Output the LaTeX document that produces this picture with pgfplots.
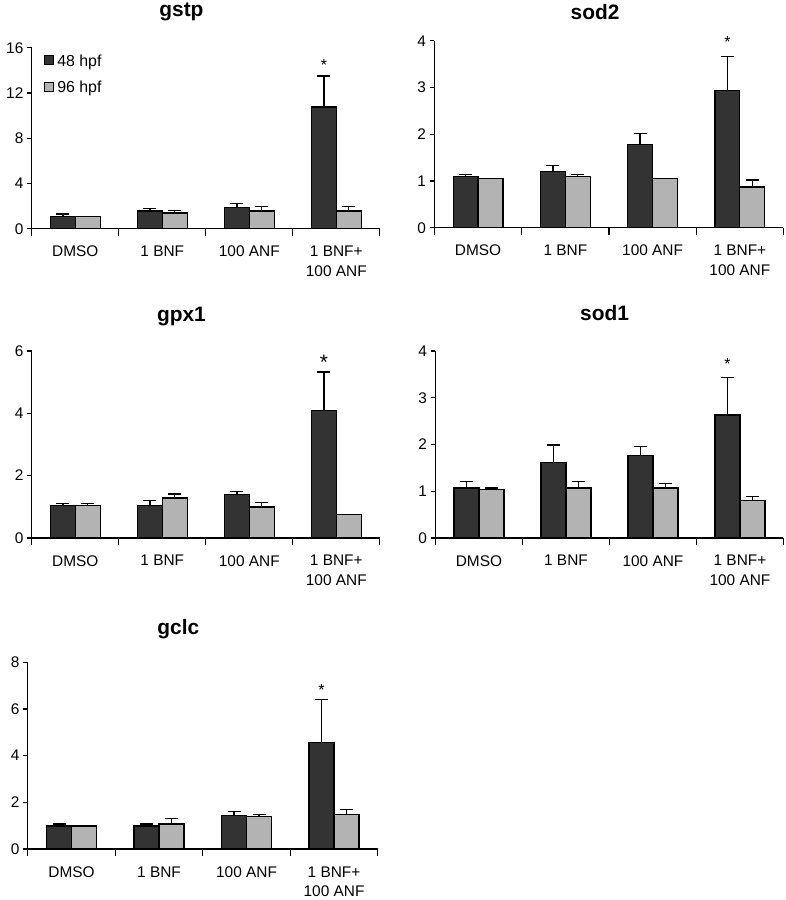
\documentclass[border=0pt]{standalone}
\usepackage{pgfplots}
\pgfplotsset{compat=1.18}
\usepackage{fontspec}
\setmainfont{Liberation Sans}
\definecolor{darkbar}{HTML}{333333}
\definecolor{lightbar}{HTML}{B3B3B3}
\pgfplotsset{
 panel/.style={
  scale only axis, width=350pt, height=188pt, clip=false,
  axis x line=bottom, axis y line=left,
  axis line style={-, line width=1.3pt, black},
  xmin=-0.5, xmax=3.5, ymin=0,
  xtick={0,1,2,3}, xticklabels={DMSO,1 BNF,100 ANF,{1 BNF+\\100 ANF}},
  xticklabel style={align=center, font=\fontsize{15.5}{19.5}\selectfont, yshift=-9pt},
  yticklabel style={font=\fontsize{15.5}{17}\selectfont},
  major x tick style={draw=none},
  minor xtick={-0.5,0.5,1.5,2.5,3.5},
  tick style={black, line width=1.3pt},
  minor tick length=7pt, major tick length=5pt,
  tick align=outside,
  /pgf/number format/assume math mode=true,
  ybar, bar width=0.286,
  error bars/y dir=plus, error bars/y explicit,
  error bars/error mark options={rotate=90, mark size=6.5pt, line width=1.3pt, black},
  error bars/error bar style={line width=1.3pt, black},
  title style={anchor=base, font=\bfseries\fontsize{21}{23}\selectfont},
 },
 dk/.style={fill=darkbar, draw=black, line width=1.3pt, bar shift=-0.143},
 lt/.style={fill=lightbar, draw=black, line width=1.3pt, bar shift=0.143},
}
\begin{document}
\begin{tikzpicture}[x=1pt,y=1pt]
\path (0,0) rectangle (790,900);
% gstp
\begin{axis}[panel, at={(32pt,674pt)}, anchor=south west, height=182pt,
  ymax=16, ytick={0,4,8,12,16},
  title={gstp}, title style={at={(0.43,1)}, yshift=25pt},
  legend style={at={(0.034,0.962)}, anchor=north west, draw=none, fill=none,
    inner sep=0pt, outer sep=0pt,
    font=\fontsize{16}{18}\selectfont, row sep=15pt,
    nodes={inner sep=0pt, text depth=0pt}},
  legend cell align=left,
  legend image code/.code={\draw[#1, line width=1.1pt] (0pt,-4.5pt) rectangle (9pt,4.5pt); \path (12.5pt,0pt);}]
\addplot[dk] coordinates {(0,1.06) +- (0,0.24) (1,1.56) +- (0,0.2) (2,1.9) +- (0,0.33) (3,10.75) +- (0,2.75)};
\addplot[lt] coordinates {(0,1.05) +- (0,0) (1,1.38) +- (0,0.2) (2,1.56) +- (0,0.38) (3,1.56) +- (0,0.38)};
\legend{48 hpf, 96 hpf}
\node[font=\fontsize{16}{17}\selectfont] at (axis cs:2.857,14.5) {*};
\end{axis}
% sod2
\begin{axis}[panel, at={(437pt,675pt)}, anchor=south west, width=351pt,
  ymax=4, ytick={0,1,2,3,4},
  title={sod2}, title style={at={(0.46,1)}, yshift=15pt}]
\addplot[dk] coordinates {(0,1.09) +- (0,0.05) (1,1.21) +- (0,0.12) (2,1.78) +- (0,0.24) (3,2.93) +- (0,0.74)};
\addplot[lt] coordinates {(0,1.06) +- (0,0) (1,1.09) +- (0,0.05) (2,1.06) +- (0,0) (3,0.87) +- (0,0.15)};
\node[font=\fontsize{16}{17}\selectfont] at (axis cs:2.857,3.98) {*};
\end{axis}
% gpx1
\begin{axis}[panel, at={(32pt,363pt)}, anchor=south west,
  ymax=6, ytick={0,2,4,6},
  title={gpx1}, title style={at={(0.43,1)}, yshift=24pt}]
\addplot[dk] coordinates {(0,1.05) +- (0,0.06) (1,1.05) +- (0,0.15) (2,1.39) +- (0,0.1) (3,4.08) +- (0,1.25)};
\addplot[lt] coordinates {(0,1.05) +- (0,0.06) (1,1.28) +- (0,0.13) (2,0.99) +- (0,0.14) (3,0.75) +- (0,0)};
\node[font=\fontsize{21}{22}\selectfont] at (axis cs:2.857,5.65) {*};
\end{axis}
% sod1
\begin{axis}[panel, at={(438pt,363pt)}, anchor=south west,
  ymax=4, ytick={0,1,2,3,4},
  title={sod1}, title style={at={(0.486,1)}, yshift=25pt}]
\addplot[dk] coordinates {(0,1.07) +- (0,0.13) (1,1.61) +- (0,0.38) (2,1.76) +- (0,0.2) (3,2.63) +- (0,0.81)};
\addplot[lt] coordinates {(0,1.04) +- (0,0.03) (1,1.07) +- (0,0.13) (2,1.07) +- (0,0.09) (3,0.8) +- (0,0.09)};
\node[font=\fontsize{16}{17}\selectfont] at (axis cs:2.857,3.72) {*};
\end{axis}
% gclc
\begin{axis}[panel, at={(28pt,50pt)}, anchor=south west, width=352pt,
  ymax=8, ytick={0,2,4,6,8},
  title={gclc}, title style={at={(0.43,1)}, yshift=22pt}]
\addplot[dk] coordinates {(0,0.99) +- (0,0.09) (1,0.99) +- (0,0.09) (2,1.45) +- (0,0.17) (3,4.55) +- (0,1.85)};
\addplot[lt] coordinates {(0,0.99) +- (0,0) (1,1.08) +- (0,0.24) (2,1.39) +- (0,0.09) (3,1.48) +- (0,0.22)};
\node[font=\fontsize{16}{17}\selectfont] at (axis cs:2.857,6.8) {*};
\end{axis}
\end{tikzpicture}
\end{document}
